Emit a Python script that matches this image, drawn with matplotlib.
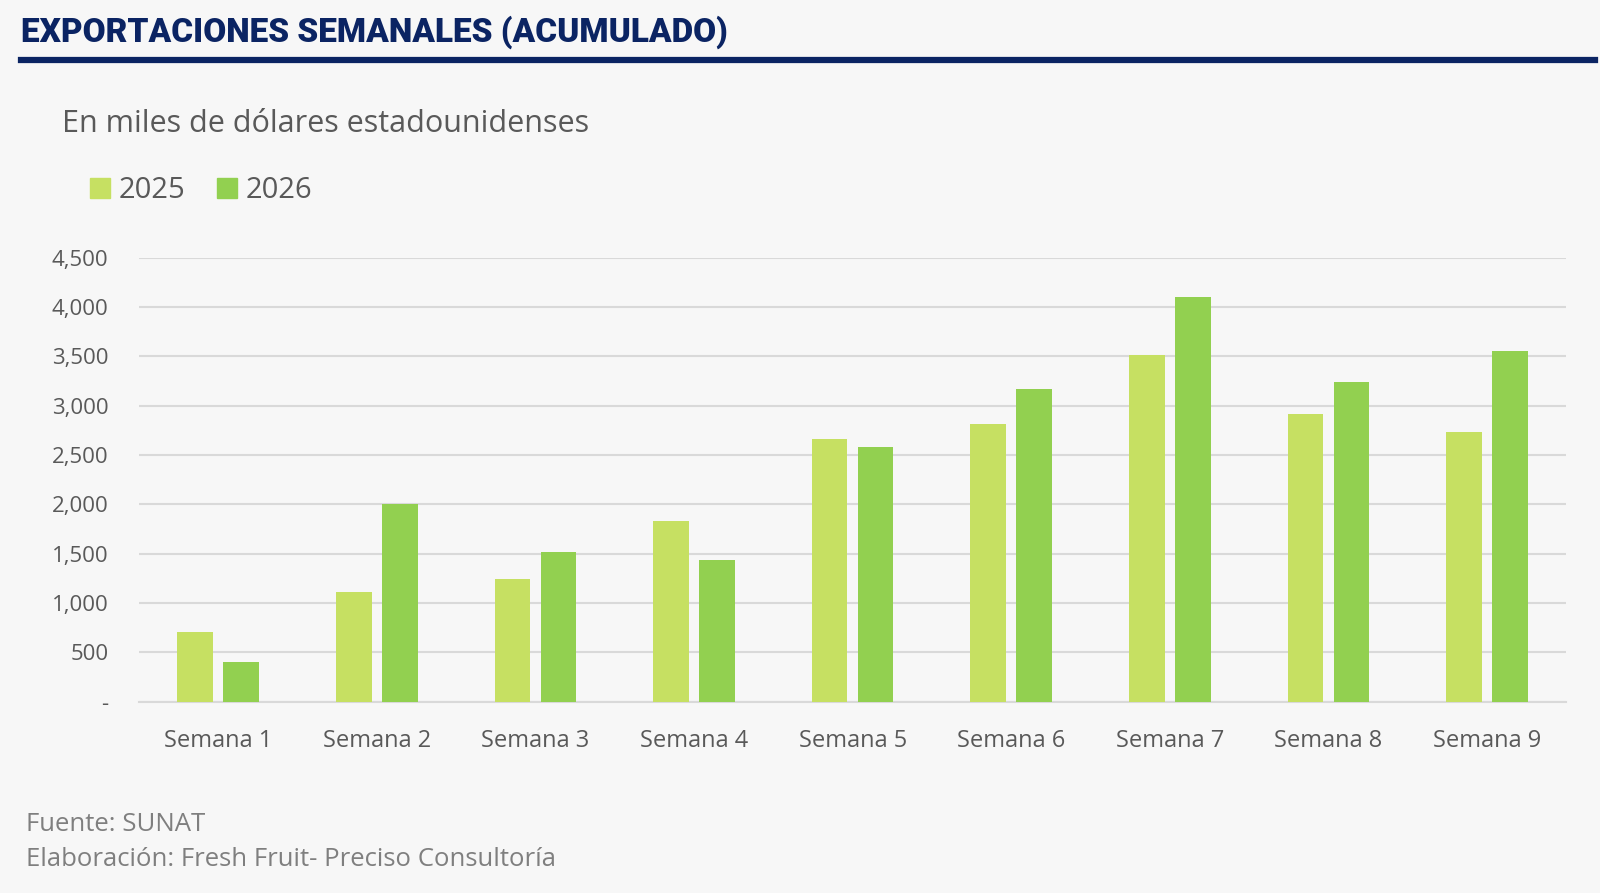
import matplotlib
matplotlib.use("Agg")
import matplotlib.pyplot as plt
import numpy as np
from matplotlib.lines import Line2D
from matplotlib.ticker import FuncFormatter

# data (miles de USD)
semanas = ["Semana 1", "Semana 2", "Semana 3", "Semana 4", "Semana 5",
           "Semana 6", "Semana 7", "Semana 8", "Semana 9"]
v2025 = [708, 1117, 1241, 1831, 2659, 2814, 3517, 2916, 2733]
v2026 = [405, 2007, 1521, 1438, 2586, 3165, 4098, 3240, 3555]
years = ["2025", "2026"]

bg = "#F7F7F7"
c25 = "#C6E062"
c26 = "#92D050"
navy = "#0B2463"
txt = "#595959"

plt.rcParams["font.family"] = ["Open Sans", "DejaVu Sans"]

fig = plt.figure(figsize=(16, 8.93), dpi=100, facecolor=bg)
ax = fig.add_axes([0.0869, 0.2142, 0.892, 0.4972], facecolor=bg)

x = np.arange(len(semanas))
w = 0.225
off = 0.145
ax.bar(x - off, v2025, w, color=c25, label=years[0], zorder=3)
ax.bar(x + off, v2026, w, color=c26, label=years[1], zorder=3)

ax.set_xlim(-0.5, len(semanas) - 0.5)
ax.set_ylim(0, 4500)
ax.set_yticks(np.arange(0, 4501, 500))
ax.yaxis.set_major_formatter(FuncFormatter(lambda v, p: "-" if v == 0 else f"{int(v):,}"))
ax.grid(axis="y", color="#D9D9D9", linewidth=1.5, zorder=0)
ax.set_xticks(x)
ax.set_xticklabels(semanas)
for s in ["top", "right", "left"]:
    ax.spines[s].set_visible(False)
ax.spines["bottom"].set_color("#D9D9D9")
ax.spines["bottom"].set_linewidth(1.5)
ax.tick_params(axis="y", length=0, colors=txt, labelsize=16, pad=22)
ax.tick_params(axis="x", length=0, colors=txt, labelsize=17, pad=20)

# title + underline
fig.text(0.013, 0.964, "EXPORTACIONES SEMANALES (ACUMULADO)", fontsize=24,
         fontweight="heavy", color=navy, va="center", ha="left",
         family=["Roboto", "DejaVu Sans"])
fig.add_artist(Line2D([0.013, 0.997], [0.933, 0.933], color=navy, linewidth=4.5))

fig.text(0.039, 0.861, "En miles de dólares estadounidenses", fontsize=22,
         color=txt, va="center", ha="left")

handles = [
    Line2D([], [], marker="s", linestyle="none", markersize=14, color=c25),
    Line2D([], [], marker="s", linestyle="none", markersize=14, color=c26),
]
fig.legend(handles, years, loc="center left", bbox_to_anchor=(0.037, 0.787),
           frameon=False, ncol=2, fontsize=21, labelcolor=txt,
           handletextpad=0.15, columnspacing=0.9, handlelength=1.0)

fig.text(0.016, 0.077, "Fuente: SUNAT", fontsize=18.5, color="#7F7F7F",
         va="center", ha="left")
fig.text(0.016, 0.038, "Elaboración: Fresh Fruit- Preciso Consultoría", fontsize=18.5,
         color="#7F7F7F", va="center", ha="left")

fig.savefig("out.png", dpi=100, facecolor=bg)
